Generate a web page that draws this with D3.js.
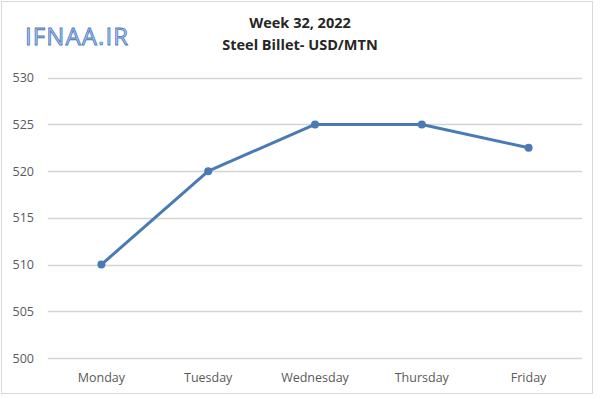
<!DOCTYPE html>
<html>
<head>
<meta charset="utf-8">
<script src="https://cdn.jsdelivr.net/npm/d3@7"></script>
<style>
  body { margin: 0; background: #fff; }
  svg { display: block; }
</style>
</head>
<body>
<svg id="svg1" width="600" height="399"></svg>
<script>
// data
var days = ["Monday", "Tuesday", "Wednesday", "Thursday", "Friday"];
var prices = [510, 520, 525, 525, 522.5];
var yTicks = [500, 505, 510, 515, 520, 525, 530];
var titleLines = ["Week 32, 2022", "Steel Billet- USD/MTN"];

var width = 600;
var height = 399;

var plotLeft = 48;
var plotRight = 582;
var plotTop = 77.7;
var plotBottom = 358;

var scaleX = d3.scaleBand().domain(days).range([plotLeft, plotRight]);
var scaleY = d3.scaleLinear().domain([500, 530]).range([plotBottom, plotTop]);

var svg = d3.select('#svg1');

// outer border
svg.append('rect')
    .attr('x', 1.5).attr('y', 1.5)
    .attr('width', 591).attr('height', 392)
    .attr('fill', '#fff')
    .attr('stroke', '#d9d9d9')
    .attr('stroke-width', 1);

// gridlines
svg.append('g')
    .selectAll('line')
    .data(yTicks)
    .enter()
    .append('line')
    .attr('x1', plotLeft)
    .attr('x2', plotRight)
    .attr('y1', function(d){ return Math.round(scaleY(d)) + 0.5; })
    .attr('y2', function(d){ return Math.round(scaleY(d)) + 0.5; })
    .attr('stroke', '#d4d4d4')
    .attr('stroke-width', 1.3);

// y tick labels
svg.append('g')
    .selectAll('text')
    .data(yTicks)
    .enter()
    .append('text')
    .text(function(d){ return d; })
    .attr('x', 34)
    .attr('y', function(d){ return scaleY(d) + 4.5; })
    .attr('text-anchor', 'end')
    .style('font-family', 'Open Sans, sans-serif')
    .style('font-size', '12.5px')
    .attr('fill', '#595959');

// x labels
svg.append('g')
    .selectAll('text')
    .data(days)
    .enter()
    .append('text')
    .text(function(d){ return d; })
    .attr('x', function(d){ return scaleX(d) + scaleX.bandwidth() / 2; })
    .attr('y', 382)
    .attr('text-anchor', 'middle')
    .style('font-family', 'Open Sans, sans-serif')
    .style('font-size', '12.5px')
    .attr('fill', '#595959');

// title
svg.append('g')
    .selectAll('text')
    .data(titleLines)
    .enter()
    .append('text')
    .text(function(d){ return d; })
    .attr('x', 300)
    .attr('y', function(d, i){ return 28 + i * 22; })
    .attr('text-anchor', 'middle')
    .style('font-family', 'Open Sans, sans-serif')
    .style('font-weight', 'bold')
    .style('font-size', '14.5px')
    .attr('fill', '#262626');

// watermark
svg.append('text')
    .text('IFNAA.IR')
    .attr('x', 25)
    .attr('y', 45)
    .style('font-family', 'Open Sans, sans-serif')
    .style('font-size', '24px')
    .attr('textLength', 103)
    .attr('fill', '#b3cbee')
    .attr('stroke', '#4a78bf')
    .attr('stroke-width', 0.8);

// line
var makeLine = d3.line()
    .x(function(d, i){ return scaleX(days[i]) + scaleX.bandwidth() / 2; })
    .y(function(d){ return scaleY(d); });

svg.append('path')
    .datum(prices)
    .attr('d', makeLine)
    .attr('fill', 'none')
    .attr('stroke', '#4a7ab4')
    .attr('stroke-width', 3)
    .attr('stroke-linejoin', 'round');

svg.append('g')
    .selectAll('circle')
    .data(prices)
    .enter()
    .append('circle')
    .attr('cx', function(d, i){ return scaleX(days[i]) + scaleX.bandwidth() / 2; })
    .attr('cy', function(d){ return scaleY(d); })
    .attr('r', 4)
    .attr('fill', '#4a7ab4');
</script>
</body>
</html>
